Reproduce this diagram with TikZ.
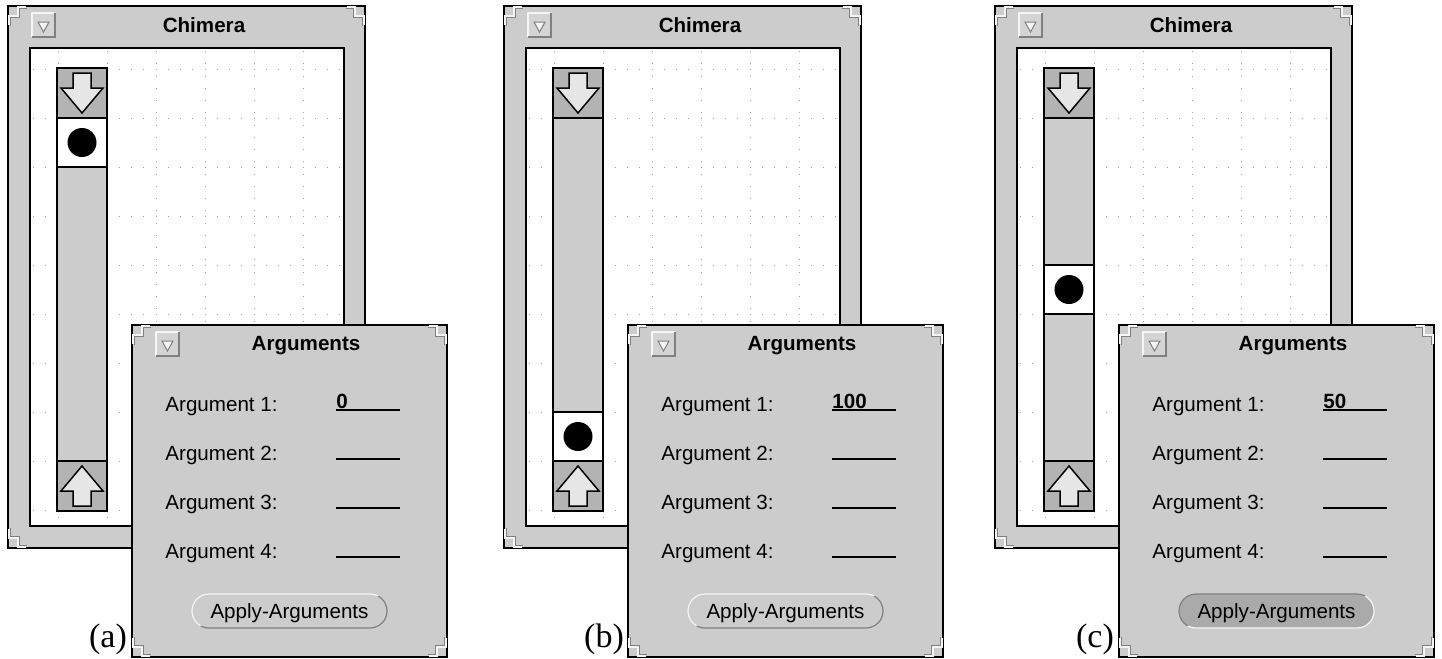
\documentclass[tikz,border=0pt]{standalone}
\usepackage{fontspec}
\setmainfont{Liberation Sans}
\newfontfamily\tagfont{Liberation Serif}
\usetikzlibrary{calc}
\definecolor{winbg}{RGB}{204,204,204}
\definecolor{cellbg}{RGB}{179,179,179}
\definecolor{arrowbg}{RGB}{230,230,230}
\definecolor{pressbg}{RGB}{170,170,170}
\definecolor{bevdark}{RGB}{128,128,128}
\definecolor{bevlight}{RGB}{245,245,245}
\definecolor{gridgray}{RGB}{160,160,160}
\tikzset{
  winframe/.style  = {draw=black, line width=0.8pt, fill=winbg},
  canvas/.style    = {draw=black, line width=0.8pt, fill=white},
  gridline/.style  = {gridgray, line width=0.5pt, dash pattern=on 0.5pt off 5.625pt},
  slidercell/.style = {draw=black, line width=0.8pt},
  arrowshape/.style = {draw=black, line width=0.75pt, fill=arrowbg, line join=miter},
  arglabel/.style  = {anchor=base west, inner sep=0pt, font=\fontsize{10.3}{12}\selectfont},
  argvalue/.style  = {anchor=base west, inner sep=0pt, font=\fontsize{10.3}{12}\selectfont\bfseries},
  wintitle/.style  = {anchor=base, inner sep=0pt, font=\fontsize{10.3}{12}\selectfont\bfseries},
  btntext/.style   = {anchor=base, inner sep=0pt, font=\fontsize{10.3}{12}\selectfont},
  argline/.style   = {line width=0.75pt},
  figtag/.style    = {anchor=base, inner sep=0pt, font=\fontsize{17}{20}\selectfont\tagfont},
}
\newcommand{\rescorner}[3]{%
  \begin{scope}[shift={(#1,#2)},#3]
    \draw[bevdark, line width=0.5pt] (2.5,20) -- (2.5,11.5) -- (11.5,11.5) -- (11.5,2.5) -- (19,2.5);
    \draw[bevlight, line width=0.8pt] (1,19) -- (1,10) -- (10,10) -- (10,1) -- (18,1);
  \end{scope}}
\newcommand{\menubutton}[2]{%
  \begin{scope}[shift={(#1,#2)}]
    \fill[winbg!85!white] (0,0) rectangle (23,24);
    \draw[bevlight, line width=0.6pt] (0,24) -- (0,0) -- (23,0);
    \draw[bevdark, line width=0.6pt] (23,0) -- (23,24) -- (0,24);
    \draw[bevdark, line width=0.5pt, fill=bevlight] (6,9) -- (17,9) -- (11.5,19) -- cycle;
  \end{scope}}

\begin{document}
\begin{tikzpicture}[x=0.5pt, y=-0.5pt]
  \useasboundingbox (0,0) rectangle (1442,659);
  \foreach \off/\knob/\val/\tag/\btnbg/\btntop/\btnbot in
      {0/118/0/a/winbg/bevlight/bevdark,
       496/412/100/b/winbg/bevlight/bevdark,
       987/265/50/c/pressbg/bevdark/bevlight} {
  \begin{scope}[shift={(\off,0)}]
    % Chimera window
    \draw[winframe] (8,6) rectangle (365,548);
    \draw[canvas] (30,48) rectangle (344,526);
    \begin{scope}
      \clip (30,48) rectangle (344,526);
      \foreach \gy in {69,118,...,510} \draw[gridline] (33,\gy) -- (344,\gy);
      \foreach \gx in {58,107,...,303} \draw[gridline] (\gx,51) -- (\gx,526);
    \end{scope}
    \rescorner{8}{6}{}
    \rescorner{365}{6}{xscale=-1}
    \rescorner{8}{548}{yscale=-1}
    \menubutton{32}{13}
    \node[wintitle] (chimera-\tag) at (204,32) {Chimera};
    % slider
    \fill[winbg] (57,68) rectangle (107,511);
    \fill[cellbg] (57,68) rectangle (107,118);
    \fill[cellbg] (57,461) rectangle (107,511);
    \fill[white] (57,\knob) rectangle (107,{\knob+49});
    \draw[slidercell] (57,118) -- (107,118) (57,461) -- (107,461);
    \draw[slidercell] (57,\knob) -- (107,\knob) (57,{\knob+49}) -- (107,{\knob+49});
    \draw[slidercell] (57,68) rectangle (107,511);
    \fill (82,{\knob+24.5}) circle (14.5);
    \draw[arrowshape] (73,73) -- (91,73) -- (91,88) -- (103,88) -- (82,113) -- (61,88) -- (73,88) -- cycle;
    \draw[arrowshape] (82,466) -- (103,491) -- (91,491) -- (91,506) -- (73,506) -- (73,491) -- (61,491) -- cycle;
    % Arguments window
    \draw[winframe] (132,325) rectangle (447,657);
    \rescorner{132}{325}{}
    \rescorner{447}{325}{xscale=-1}
    \rescorner{132}{657}{yscale=-1}
    \rescorner{447}{657}{xscale=-1,yscale=-1}
    \menubutton{156}{332}
    \node[wintitle] (args-\tag) at (306,350) {Arguments};
    \foreach \k in {1,...,4} {
      \node[arglabel] (arg\k-\tag) at (165,{411+49*(\k-1)}) {Argument \k:};
      \draw[argline] (336,{410+49*(\k-1)}) -- (400,{410+49*(\k-1)});
    }
    \node[argvalue] (val-\tag) at (336,408) {\val};
    \fill[\btnbg, rounded corners=8.5pt] (192,594) rectangle (387,628);
    \begin{scope}
      \clip (170,570) -- (410,570) -- (410,591) -- (170,631) -- cycle;
      \draw[\btntop, line width=0.6pt, rounded corners=8.5pt] (192,594) rectangle (387,628);
    \end{scope}
    \begin{scope}
      \clip (170,631) -- (410,591) -- (410,640) -- (170,640) -- cycle;
      \draw[\btnbot, line width=0.6pt, rounded corners=8.5pt] (192,594) rectangle (387,628);
    \end{scope}
    \node[btntext] (apply-\tag) at (289.5,618) {Apply-Arguments};
    \node[figtag] (tag-\tag) at (108,647) {(\tag)};
  \end{scope}
  }
\end{tikzpicture}
\end{document}
